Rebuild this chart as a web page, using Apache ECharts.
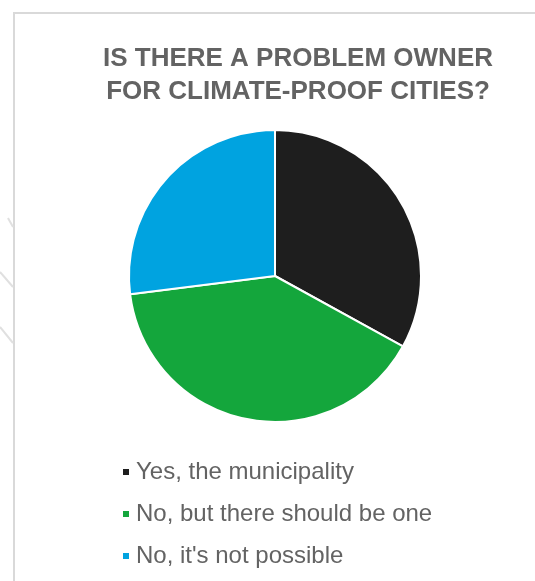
<!DOCTYPE html>
<html>
<head>
<meta charset="utf-8">
<style>html,body{margin:0;padding:0;background:#fff;}#chart{width:535px;height:581px;}</style>
<script src="https://cdn.jsdelivr.net/npm/echarts@6/dist/echarts.min.js"></script>
</head>
<body>
<div id="chart"></div>
<script>
const categories = ["Yes, the municipality", "No, but there should be one", "No, it's not possible"];
const values = [33, 40, 27];
const colors = ["#1e1e1e", "#14a63c", "#00a3e0"];

const chart = echarts.init(document.getElementById('chart'), null, {renderer: 'canvas'});
chart.setOption({
  backgroundColor: '#ffffff',
  animation: false,
  title: {
    text: 'IS THERE A PROBLEM OWNER\nFOR CLIMATE-PROOF CITIES?',
    left: 298, top: 37, textAlign: 'center',
    textStyle: {fontFamily: 'Liberation Sans, Arial', fontWeight: 'bold', fontSize: 26, color: '#636363', lineHeight: 33}
  },
  legend: {
    orient: 'vertical', left: 116, top: 455,
    icon: 'rect', itemWidth: 8, itemHeight: 8, itemGap: 18,
    textStyle: {fontFamily: 'Liberation Sans, Arial', fontSize: 24, color: '#636363', lineHeight: 24, padding: [0, 0, 0, 1]},
    data: categories
  },
  graphic: [
    {type: 'rect', shape: {x: 14, y: 13, width: 600, height: 600}, style: {fill: 'none', stroke: '#d9d9d9', lineWidth: 2}, silent: true},
    {type: 'line', shape: {x1: 8, y1: 218, x2: 13, y2: 227}, style: {stroke: '#e0e0e0', lineWidth: 2}, silent: true},
    {type: 'line', shape: {x1: 0, y1: 272, x2: 13, y2: 287}, style: {stroke: '#e0e0e0', lineWidth: 2}, silent: true},
    {type: 'line', shape: {x1: 0, y1: 327, x2: 13, y2: 343}, style: {stroke: '#e0e0e0', lineWidth: 2}, silent: true}
  ],
  series: [{
    type: 'pie',
    center: [275, 276], radius: 146,
    startAngle: 90, clockwise: true,
    label: {show: false}, labelLine: {show: false},
    itemStyle: {borderColor: '#ffffff', borderWidth: 2},
    emphasis: {disabled: true},
    data: categories.map((c, i) => ({name: c, value: values[i], itemStyle: {color: colors[i]}}))
  }]
});
chart.setOption({title: {left: 293}});
</script>
</body>
</html>
